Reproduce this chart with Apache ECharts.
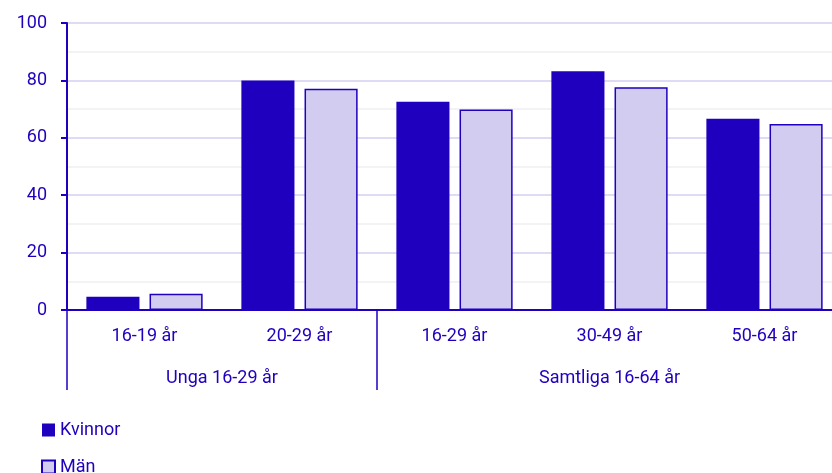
<!DOCTYPE html>
<html>
<head>
<meta charset="utf-8">
<script src="https://cdn.jsdelivr.net/npm/echarts@6/dist/echarts.min.js"></script>
<style>
  html, body { margin: 0; padding: 0; background: #fff; }
  #chart { width: 832px; height: 473px; }
</style>
</head>
<body>
<div id="chart"></div>
<script>
// kategorier och grupper
const categories = ['16-19 år', '20-29 år', '16-29 år', '30-49 år', '50-64 år']
const groupNames = ['Unga 16-29 år', 'Samtliga 16-64 år']
const groupSizes = [2, 3]

// värden (procent)
const kvinnor = [4.6, 80.0, 72.6, 83.2, 66.6]
const man = [5.7, 77.1, 69.9, 77.6, 64.8]

const blue = '#1e00be'
const lilac = '#d2cdf0'
const font = 'Roboto'

// gruppgränser och mittpunkter på kategoriskalan
let groupBounds = [0]
let groupCenters = []
groupSizes.forEach(n => {
    let start = groupBounds[groupBounds.length - 1]
    groupCenters.push(start + n / 2)
    groupBounds.push(start + n)
})

let myChart = echarts.init(document.getElementById('chart'))

let option = {
    backgroundColor: '#fff',
    animation: false,
    textStyle: { fontFamily: font },
    legend: {
        orient: 'vertical',
        left: 41,
        top: 421,
        height: 80,
        padding: 0,
        icon: 'rect',
        itemWidth: 13,
        itemHeight: 13,
        itemGap: 19,
        textStyle: { color: blue, fontSize: 18, fontFamily: font },
        data: ['Kvinnor', 'Män']
    },
    grid: {
        left: 67,
        top: 23,
        height: 287,
        width: 775,
        outerBoundsMode: 'none'
    },
    xAxis: [
        {
            type: 'category',
            data: categories,
            axisLine: { lineStyle: { color: blue, width: 2 } },
            axisTick: { show: false },
            axisLabel: { color: blue, fontSize: 18, margin: 17, fontFamily: font }
        },
        {
            type: 'value',
            position: 'bottom',
            min: 0,
            max: categories.length,
            axisLine: { show: false },
            splitLine: { show: false },
            axisTick: {
                show: true,
                customValues: groupBounds,
                length: 80,
                lineStyle: { color: blue, width: 1.5 }
            },
            axisLabel: {
                customValues: groupCenters,
                color: blue,
                fontSize: 18,
                margin: 59,
                fontFamily: font,
                formatter: v => groupNames[groupCenters.indexOf(v)] || ''
            }
        }
    ],
    yAxis: {
        type: 'value',
        min: 0,
        max: 100,
        interval: 20,
        axisLine: { show: true, lineStyle: { color: blue, width: 2 } },
        axisTick: { show: true, length: 6, lineStyle: { color: blue, width: 2 } },
        axisLabel: { color: blue, fontSize: 18, margin: 20, fontFamily: font },
        splitLine: { lineStyle: { color: '#d3d0f0', width: 1.5 } },
        minorTick: { show: false, splitNumber: 2 },
        minorSplitLine: { show: true, lineStyle: { color: '#efeff3', width: 1.5 } }
    },
    series: [
        {
            name: 'Kvinnor',
            type: 'bar',
            data: kvinnor,
            barGap: '19%',
            barCategoryGap: '25%',
            itemStyle: { color: blue }
        },
        {
            name: 'Män',
            type: 'bar',
            data: man,
            itemStyle: { color: lilac, borderColor: blue, borderWidth: 1.5 }
        }
    ]
}

myChart.setOption(option)
</script>
</body>
</html>
